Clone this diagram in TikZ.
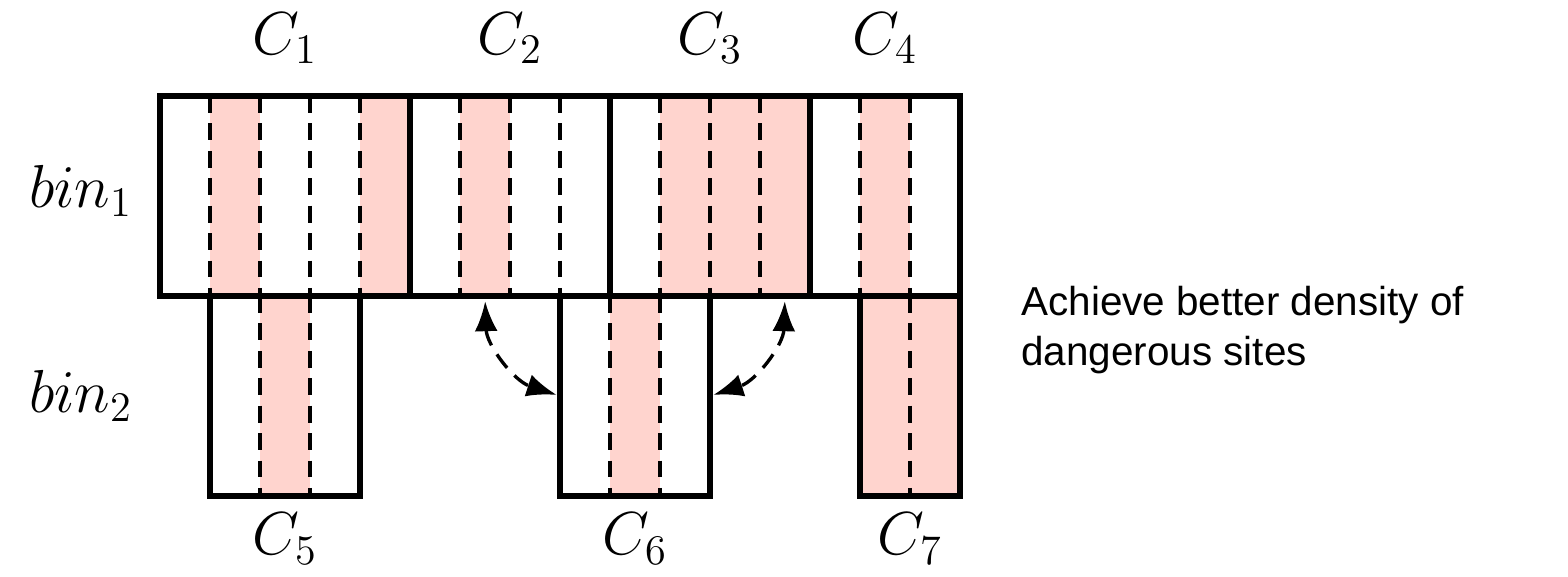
\documentclass[tikz,border=0pt]{standalone}
\usepackage{fontspec}
\usepackage{tikz}
\usetikzlibrary{arrows.meta, positioning}
\newfontfamily\notefont{Liberation Sans}
\definecolor{binHot}{HTML}{FFD4CE}

\begin{document}
\begin{tikzpicture}[
  x=0.5cm, y=0.5cm,
  hot/.style={fill=binHot, inner sep=0, outer sep=0, minimum width=0.5cm,
              minimum height=2cm, anchor=north west},
  colbox/.style={draw, line width=1.7pt, inner sep=0, outer sep=0,
                 minimum height=2cm, anchor=north west},
  slot/.style={dash pattern=on 4.8pt off 3pt, line width=0.95pt},
  lbl/.style={font=\fontsize{18.2}{22}\selectfont},
  note/.style={font=\notefont\fontsize{11.5}{14.2}\selectfont, align=left},
  swap/.style={{Latex[length=8.5pt,width=6.5pt]}-{Latex[length=8.5pt,width=6.5pt]},
               dash pattern=on 4.8pt off 3pt, line width=0.95pt}
]
  \useasboundingbox (-3.2,1.92) rectangle (28.16,-9.6);

  % dangerous sites
  \node[hot] (h1) at (1,0) {};
  \node[hot] (h2) at (4,0) {};
  \node[hot] (h3) at (6,0) {};
  \node[hot] (h4) at (10,0) {};
  \node[hot] (h5) at (11,0) {};
  \node[hot] (h6) at (12,0) {};
  \node[hot] (h7) at (14,0) {};
  \node[hot] (h8) at (2,-4) {};
  \node[hot] (h9) at (9,-4) {};
  \node[hot, minimum width=1cm] (h10) at (14,-4) {};

  % site slots
  \draw[slot] (1,0) -- (1,-4) (2,0) -- (2,-4) (3,0) -- (3,-4) (4,0) -- (4,-4)
              (6,0) -- (6,-4) (7,0) -- (7,-4) (8,0) -- (8,-4)
              (10,0) -- (10,-4) (11,0) -- (11,-4) (12,0) -- (12,-4)
              (14,0) -- (14,-4) (15,0) -- (15,-4);
  \draw[slot] (2,-4) -- (2,-8) (3,-4) -- (3,-8) (9,-4) -- (9,-8)
              (10,-4) -- (10,-8) (15,-4) -- (15,-8);

  % columns
  \node[colbox, minimum width=2.5cm] (c1) at (0,0) {};
  \node[colbox, minimum width=2cm] (c2) at (c1.north east) {};
  \node[colbox, minimum width=2cm] (c3) at (c2.north east) {};
  \node[colbox, minimum width=1.5cm] (c4) at (c3.north east) {};
  \node[colbox, minimum width=1.5cm] (c5) at (1,-4) {};
  \node[colbox, minimum width=1.5cm] (c6) at (8,-4) {};
  \node[colbox, minimum width=1cm] (c7) at (14,-4) {};

  \node[lbl, above=0.2cm of c1] (t1) {$C_1$};
  \node[lbl, above=0.2cm of c2] (t2) {$C_2$};
  \node[lbl, above=0.2cm of c3] (t3) {$C_3$};
  \node[lbl, above=0.2cm of c4] (t4) {$C_4$};
  \node[lbl, below=0.05cm of c5] (t5) {$C_5$};
  \node[lbl, below=0.05cm of c6] (t6) {$C_6$};
  \node[lbl, below=0.05cm of c7] (t7) {$C_7$};
  \node[lbl, left=0.15cm of c1, yshift=0.05cm] (b1) {$bin_1$};
  \node[lbl] (b2) at (b1 |- c5.west) {$bin_2$};

  \node[note, right=0.49cm of c7.north east, yshift=-0.34cm] (gain)
    {Achieve better density of\\dangerous sites};

  \draw[swap, shorten <=1.5pt, shorten >=1pt] (h3.south) to[bend right=35] (c6.west);
  \draw[swap, shorten <=1.5pt, shorten >=1pt] (h6.south) to[bend left=35] (c6.east);
\end{tikzpicture}
\end{document}
